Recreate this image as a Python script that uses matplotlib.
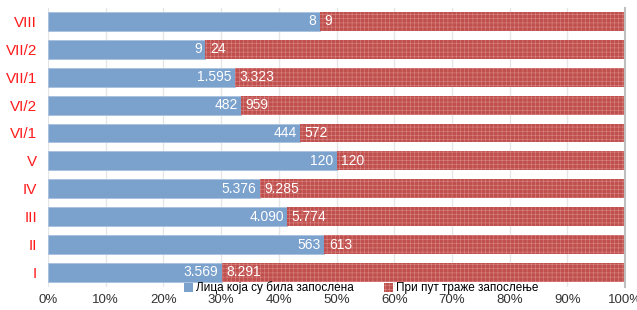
import matplotlib.pyplot as plt
from matplotlib import font_manager as fm
import numpy as np

categories = ["I", "II", "III", "IV", "V", "VI/1", "VI/2", "VII/1", "VII/2", "VIII"]
employed = [3569, 563, 4090, 5376, 120, 444, 482, 1595, 9, 8]
first_time = [8291, 613, 5774, 9285, 120, 572, 959, 3323, 24, 9]
series_names = ["Лица која су била запослена", "При пут траже запослење"]
xticks = [0, 10, 20, 30, 40, 50, 60, 70, 80, 90, 100]

names = {f.name for f in fm.fontManager.ttflist}
fam = "Liberation Sans Narrow" if "Liberation Sans Narrow" in names else "Liberation Sans"
plt.rcParams['font.family'] = [fam, 'DejaVu Sans']
plt.rcParams['hatch.linewidth'] = 0.4


def fmt(v):
    return "{:,}".format(v).replace(",", ".")


emp = np.array(employed, dtype=float)
ft = np.array(first_time, dtype=float)
tot = emp + ft
p_emp = emp / tot * 100
p_ft = ft / tot * 100

fig = plt.figure(figsize=(6.37, 3.10), dpi=100)
ax = fig.add_axes([48 / 637, 23 / 310, 577 / 637, 279 / 310])

y = np.arange(len(categories))
blue = "#7BA1CD"
red = "#C0504D"
ax.barh(y, p_emp, height=0.68, color=blue, edgecolor="#A9C1DF", linewidth=0.6, zorder=2)
ax.barh(y, p_ft, left=p_emp, height=0.68, color=red, edgecolor="#D98886",
        hatch="++++", linewidth=0, zorder=2)

for i in range(len(categories)):
    ax.text(p_emp[i] - 0.6, y[i], fmt(employed[i]), ha="right", va="center",
            color="white", fontsize=10, zorder=3)
    ax.text(p_emp[i] + 0.8, y[i], fmt(first_time[i]), ha="left", va="center",
            color="white", fontsize=10, zorder=3)

ax.set_xlim(0, 100)
ax.set_ylim(-0.52, 9.48)
ax.set_xticks(xticks)
ax.set_xticklabels([str(t) + "%" for t in xticks], fontsize=9.5, color="#333333")
ax.set_yticks(y)
ax.set_yticklabels(categories, fontsize=11, color="#FF1A1A")
ax.tick_params(axis="both", length=0)
ax.tick_params(axis="x", pad=5)
ax.tick_params(axis="y", pad=8)
ax.grid(axis="x", color="#E6E6E6", linewidth=1, zorder=0)
for s in ["top", "left", "bottom"]:
    ax.spines[s].set_visible(False)
ax.spines["right"].set_color("#BFBFBF")
ax.spines["right"].set_linewidth(1.5)

h1 = plt.Rectangle((0, 0), 1, 1, facecolor=blue)
h2 = plt.Rectangle((0, 0), 1, 1, facecolor=red, edgecolor="#D98886", hatch="++++", linewidth=0)
fig.legend([h1, h2], series_names, loc="center", bbox_to_anchor=(361 / 637, 1 - 288 / 310),
           ncol=2, frameon=False, fontsize=8.5, handlelength=0.8, handleheight=0.8,
           handletextpad=0.2, columnspacing=2.6, borderpad=0)

fig.savefig("out.png", dpi=100)
